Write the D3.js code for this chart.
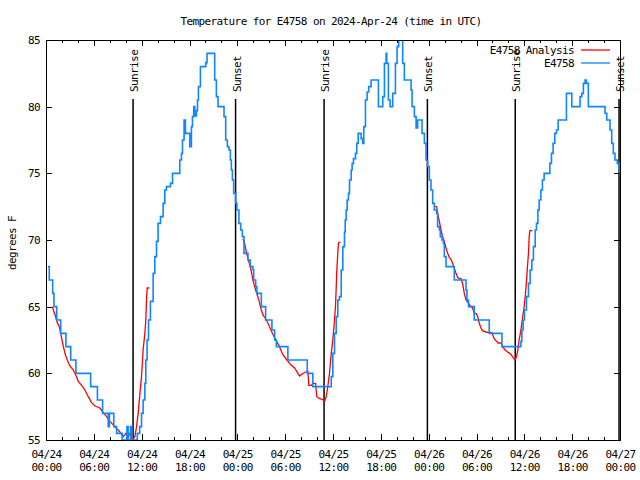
<!DOCTYPE html>
<html><head><meta charset="utf-8">
<script src="https://cdn.jsdelivr.net/npm/d3@7"></script>
<style>
body{margin:0;background:#fff}
text{font-family:"DejaVu Sans Mono","Liberation Mono",monospace;font-size:11px;letter-spacing:-0.6px;fill:#000}
</style>
</head><body>
<svg id="chart" width="640" height="480"></svg>
<script>
// ---- data (hours since 2024-04-24 00:00 UTC, degrees F) ----
const title = "Temperature for E4758 on 2024-Apr-24 (time in UTC)";
const yLabel = "degrees F";
const dayLabels = ["04/24", "04/25", "04/26", "04/27"];
const timeLabels = ["00:00", "06:00", "12:00", "18:00"];
const yTicks = [55, 60, 65, 70, 75, 80, 85];
const sunriseHours = [10.92, 34.88, 58.86];
const sunsetHours = [23.78, 47.84, 71.88];
const seriesNames = ["E4758 Analysis", "E4758"];

const observed = [
[0.25,68],[0.41,67],[0.84,66],[1.0,65],[1.34,64],[1.84,63],[2.5,62],[3.1,61],[3.75,60],[5.6,59],
[6.45,58],[7.1,57],[7.8,56],[7.95,57],[8.5,56],[8.85,55.5],[9.55,55],[10.15,56],[10.3,55],[10.6,56],
[10.75,55],[11.45,55.5],[11.75,56],[11.98,57],[12.18,58],[12.4,59.25],[12.52,61],[12.68,62.5],[12.86,64],[13.1,65.4],
[13.44,67.5],[13.65,68.75],[13.86,69.9],[14.06,71.25],[14.36,71.75],[14.69,72.75],[14.9,73.75],[15.11,74],[15.61,74.25],[15.87,75],
[16.78,76],[16.99,76.5],[17.12,77.5],[17.32,79],[17.49,78],[18.03,77],[18.24,78.5],[18.37,79.25],[18.53,80],[18.66,79.3],
[18.87,79.7],[19.0,80.5],[19.12,81.5],[19.37,83],[20.04,83.3],[20.2,84],[21.16,82],[21.37,80.75],[21.58,80],[22.33,79.25],
[22.54,77.5],[22.75,77],[22.95,76.75],[23.13,76],[23.25,75.25],[23.38,74.5],[23.54,73.5],[23.79,72.75],[23.95,72.25],[24.2,71.25],
[24.42,70.75],[24.63,70.25],[24.83,69],[25.33,68.5],[25.63,68],[25.96,67.75],[26.05,67],[26.3,66.5],[26.46,66],[27.01,65],
[27.55,64],[28.34,63.25],[28.68,62.5],[28.89,62],[30.34,61],[32.77,60],[33.47,59],[35.78,59.75],[35.98,61.5],[36.19,63],
[36.4,64.25],[36.6,65.5],[36.81,65.75],[37.03,67.75],[37.23,69.5],[37.44,70.6],[37.53,71.5],[37.65,72.25],[37.78,73],[37.94,73.5],
[38.07,74.5],[38.28,75.25],[38.4,75.75],[38.57,76.1],[38.82,76.5],[38.98,77.25],[39.16,78],[39.53,77.6],[39.73,77.25],[39.86,78.5],
[40.07,80.5],[40.28,81.1],[40.48,81.5],[40.78,82],[41.7,80],[42.24,80.75],[42.45,83.25],[42.66,84],[42.74,83.25],[42.95,80.5],
[43.16,80],[43.49,81],[43.83,83.25],[44.04,84.5],[44.24,85.5],[44.74,83.25],[44.95,82],[45.79,81.25],[45.92,80],[46.21,79.25],
[46.42,78.4],[46.62,79],[47.17,78],[47.46,77.25],[47.67,76],[47.87,75.5],[48.08,74.5],[48.29,73.75],[48.5,72.75],[48.71,72.25],
[49.0,72],[49.12,71],[49.34,70.75],[49.46,70.25],[49.67,70],[49.84,69.75],[49.96,68.75],[50.18,68],[51.21,67],[52.68,66.25],
[52.8,65.5],[53.0,65],[53.72,64],[55.6,63],[57.19,62],[59.57,62.4],[59.69,63.25],[59.85,64],[60.02,64.75],[60.27,65.75],
[60.52,66.75],[60.73,67.75],[60.94,68.5],[61.14,69.5],[61.36,70.75],[61.52,71.25],[61.7,72.25],[61.86,73],[62.07,73.75],[62.27,74.5],
[62.48,75],[63.2,75.75],[63.4,76.5],[63.61,77.25],[63.82,78],[64.03,78.25],[64.24,79],[65.28,81],[65.95,80],[66.99,80.75],
[67.21,81],[67.41,81.75],[67.62,82],[67.78,81.75],[68.03,80],[70.12,79.5],[70.34,79],[70.75,78.25],[70.96,77.25],[71.16,76.5],
[71.37,76],[71.66,75.75],[71.87,75.25],[72.0,75]
];

const analysisDay1 = [
[0.79,65],[1.13,64.4],[1.41,63.8],[1.67,63.5],[1.84,63],[2.09,62.25],[2.38,61.5],[2.67,61],[3.0,60.55],[3.42,60.25],
[3.84,59.75],[4.04,59.4],[4.47,59.1],[4.88,58.75],[5.3,58.25],[5.72,57.8],[6.14,57.55],[6.76,57.4],[7.18,57.05],[7.6,56.75],
[8.01,56.4],[8.64,56],[9.27,55.6],[9.68,55.25],[10.02,55.5],[10.31,55.25],[10.61,55.6],[10.86,55],[11.14,55.25],[11.36,56],
[11.56,57],[11.77,58.4],[11.98,59.75],[12.18,61.75],[12.4,63],[12.52,64],[12.61,65.6],[12.69,66.4],[12.94,66.4]
];
const analysisDay2 = [
[24.71,70.1],[24.92,69.75],[25.13,69.1],[25.33,68.6],[25.63,68],[25.8,67.5],[25.96,67],[26.17,66.5],[26.38,66.1],[26.58,65.75],
[26.8,65.25],[27.01,64.75],[27.21,64.4],[27.64,64],[27.96,63.6],[28.39,63],[28.8,62.55],[29.21,62.1],[29.71,61.4],[30.22,61],
[30.77,60.6],[31.18,60.4],[31.81,59.8],[32.14,59.95],[32.56,60.1],[32.85,60.15],[32.97,59.1],[33.27,59.1],[33.47,59.25],[33.81,59.25],
[33.97,58.25],[34.31,58.1],[34.65,58.05],[34.94,57.9],[35.15,58.25],[35.35,59],[35.56,60],[35.78,61.5],[35.98,62.5],[36.19,64],
[36.31,65],[36.4,66.4],[36.48,67.75],[36.6,69],[36.69,69.8],[36.94,69.85]
];
const analysisDay3 = [
[48.71,72.55],[49.0,72.5],[49.12,72],[49.34,71.4],[49.55,70.75],[49.75,70.25],[49.96,69.9],[50.18,69.4],[50.38,69],[50.59,68.7],
[50.8,68.55],[51.0,68.25],[51.21,67.9],[51.43,67.5],[51.63,67.2],[51.84,67.1],[52.05,67.1],[52.25,66.75],[52.47,66],[52.68,65.5],
[53.0,65.25],[53.31,65],[53.51,64.9],[53.72,64.5],[53.93,64.5],[54.13,64.3],[54.35,63.75],[54.56,63.4],[54.76,63.2],[55.18,63.1],
[55.6,63.05],[55.94,63.05],[56.22,62.6],[56.51,62.4],[56.76,62.25],[57.06,62.3],[57.26,62],[57.6,61.75],[57.89,61.6],[58.19,61.5],
[58.52,61.25],[58.82,61],[59.02,61.25],[59.19,61.75],[59.35,62.5],[59.57,63.25],[59.77,64.1],[59.98,65],[60.11,65.75],[60.27,66.9],
[60.39,68],[60.52,69],[60.61,70.25],[60.69,70.7],[61.02,70.7]
];

// ---- drawing ----
const svg = d3.select("#chart");
const L = 46, R = 620, T = 40, B = 440;
const x = d3.scaleLinear().domain([0, 72]).range([L, R]);
const y = d3.scaleLinear().domain([55, 85]).range([B, T]);
const RED = "#ff0000", BLUE = "#0f86ff";

svg.append("rect").attr("width", 640).attr("height", 480).attr("fill", "#fff");

svg.append("defs").append("clipPath").attr("id", "clip")
  .append("rect").attr("x", L).attr("y", T).attr("width", R - L).attr("height", B - T);

// title
svg.append("text").attr("x", 331).attr("y", 25).attr("text-anchor", "middle").text(title);

// y label
svg.append("text").attr("transform", "translate(12,243) rotate(-90)")
  .attr("text-anchor", "middle").attr("dominant-baseline", "central").text(yLabel);

// axes
const allTicks = d3.range(0, 73, 2);
const majorTicks = allTicks.filter(h => h % 6 === 0);
const minorTicks = allTicks.filter(h => h % 6 !== 0);
const fmtTick = h => dayLabels[Math.floor(h / 24)] + "|" + timeLabels[(h % 24) / 6];

function styleAxis(g) {
  g.select(".domain").remove();
  g.selectAll("line").attr("stroke", "#000").attr("stroke-width", 1).attr("shape-rendering", "crispEdges");
}

// bottom major with labels
const gB = svg.append("g").attr("transform", `translate(0,${B})`)
  .call(d3.axisBottom(x).tickValues(majorTicks).tickSizeInner(-6).tickSizeOuter(0).tickPadding(12).tickFormat(fmtTick));
styleAxis(gB);
gB.selectAll("text").each(function(d) {
  const t = d3.select(this);
  const parts = t.text().split("|");
  t.text(null).attr("y", null).attr("dy", null).attr("fill", "#000")
    .style("font-family", null).style("font-size", null);
  t.attr("font-family", null).attr("font-size", null);
  t.append("tspan").attr("x", 0).attr("y", 18).text(parts[0]);
  t.append("tspan").attr("x", 0).attr("y", 31).text(parts[1]);
});
gB.attr("font-family", null).attr("font-size", null);
// bottom minor
const gBm = svg.append("g").attr("transform", `translate(0,${B})`)
  .call(d3.axisBottom(x).tickValues(minorTicks).tickSizeInner(-3).tickSizeOuter(0).tickFormat(""));
styleAxis(gBm);
// top
const gT = svg.append("g").attr("transform", `translate(0,${T})`)
  .call(d3.axisTop(x).tickValues(majorTicks).tickSizeInner(-6).tickSizeOuter(0).tickFormat(""));
styleAxis(gT);
const gTm = svg.append("g").attr("transform", `translate(0,${T})`)
  .call(d3.axisTop(x).tickValues(minorTicks).tickSizeInner(-3).tickSizeOuter(0).tickFormat(""));
styleAxis(gTm);
// left
const gL = svg.append("g").attr("transform", `translate(${L},0)`)
  .call(d3.axisLeft(y).tickValues(yTicks).tickSizeInner(-6).tickSizeOuter(0).tickPadding(6).tickFormat(d3.format("d")));
styleAxis(gL);
gL.attr("font-family", null).attr("font-size", null);
gL.selectAll("text").attr("fill", "#000");
// right
const gR = svg.append("g").attr("transform", `translate(${R},0)`)
  .call(d3.axisRight(y).tickValues(yTicks).tickSizeInner(-6).tickSizeOuter(0).tickFormat(""));
styleAxis(gR);

// sunrise / sunset lines
const sunEvents = sunriseHours.map(h => ({h, label: "Sunrise"}))
  .concat(sunsetHours.map(h => ({h, label: "Sunset"})));
sunEvents.forEach(ev => {
  const px = x(ev.h);
  svg.append("line").attr("x1", px).attr("x2", px).attr("y1", 99).attr("y2", B)
    .attr("stroke", "#000").attr("stroke-width", 1.5);
  svg.append("text").attr("transform", `translate(${px + 1.5},92) rotate(-90)`)
    .attr("dominant-baseline", "central").text(ev.label);
});

// data lines
const plot = svg.append("g").attr("clip-path", "url(#clip)");
const redLine = d3.line().x(d => x(d[0])).y(d => y(d[1]));
[analysisDay1, analysisDay2, analysisDay3].forEach(seg => {
  plot.append("path").datum(seg).attr("d", redLine)
    .attr("fill", "none").attr("stroke", RED).attr("stroke-width", 1.3);
});
const blueLine = d3.line().x(d => x(d[0])).y(d => y(d[1])).curve(d3.curveStepAfter);
plot.append("path").datum(observed).attr("d", blueLine)
  .attr("fill", "none").attr("stroke", BLUE).attr("stroke-width", 1.6);

// frame
svg.append("rect").attr("x", L).attr("y", T).attr("width", R - L).attr("height", B - T)
  .attr("fill", "none").attr("stroke", "#000").attr("stroke-width", 1).attr("shape-rendering", "crispEdges");

// legend
const legendColors = [RED, BLUE];
seriesNames.forEach((name, i) => {
  const ly = 50 + i * 13;
  svg.append("text").attr("x", 574).attr("y", ly + 4).attr("text-anchor", "end").text(name);
  svg.append("line").attr("x1", 581).attr("x2", 610).attr("y1", ly).attr("y2", ly)
    .attr("stroke", legendColors[i]).attr("stroke-width", 1.3);
});
</script>
</body></html>
